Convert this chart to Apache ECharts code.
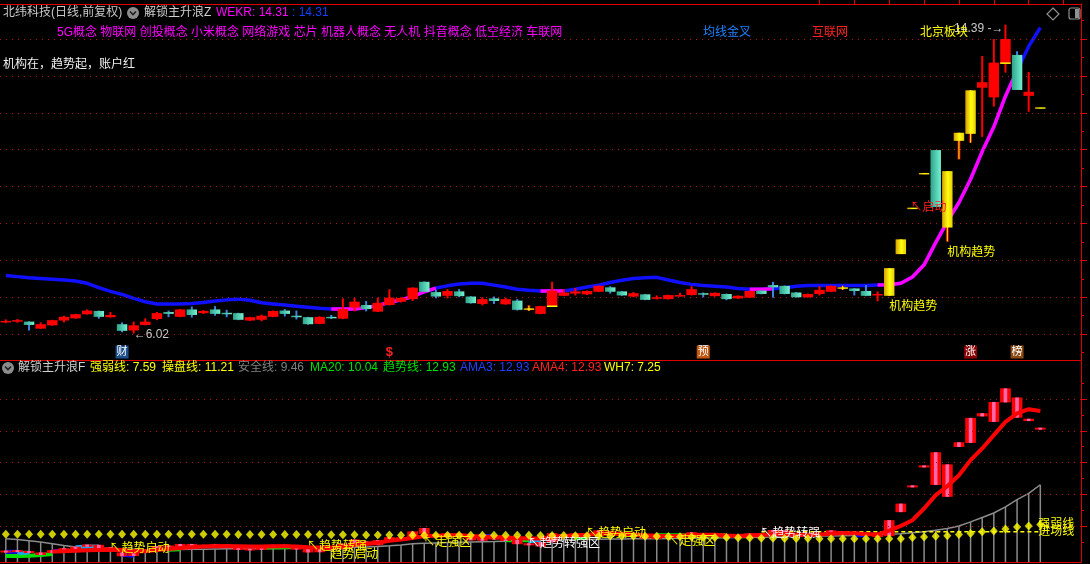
<!DOCTYPE html>
<html><head><meta charset="utf-8">
<script src="https://cdn.jsdelivr.net/npm/echarts@6/dist/echarts.min.js"></script>
<style>html,body{margin:0;padding:0;background:#000;}#c{width:1090px;height:564px;}</style>
</head><body><div id="c"></div>
<script>
// ---------------- DATA ----------------
const days = Array.from({length: 90}, (_, i) => 'D' + (i + 1));
const open = [6.32,6.34,6.34,6.15,6.24,6.37,6.43,6.54,6.63,6.46, 6.27,6.10,6.25,6.41,6.60,6.47,6.67,6.57,6.67,6.58,
  6.57,6.37,6.39,6.47,6.64,6.50,6.46,6.28,6.47,6.42, 6.72,6.79,6.61,6.79,6.88,6.95,7.42,7.14,7.04,7.16,
  7.02,6.82,6.97,6.81,6.91,6.70,6.55,6.75,7.04,7.10, 7.08,7.15,7.27,7.16,7.02,7.08,6.97,6.95,7.04,7.06,
  7.11,7.03,7.09,6.97,6.99,7.18,7.33,7.31,7.13,7.00, 7.09,7.15,7.27,7.24,7.17,7.05,7.04,8.17,9.43,10.37,
  10.99,8.89,11.24,11.43,12.68,12.42,13.34,13.57,12.46,12.15];
const close = [6.36,6.38,6.25,6.27,6.38,6.47,6.54,6.64,6.47,6.52, 6.09,6.24,6.34,6.57,6.55,6.67,6.52,6.63,6.55,6.56,
  6.39,6.46,6.50,6.63,6.55,6.48,6.27,6.47,6.45,6.68, 6.88,6.68,6.85,6.99,6.98,7.26,7.15,7.02,7.17,7.03,
  6.84,6.95,6.90,6.95,6.66,6.70,6.76,7.18,7.13,7.16, 7.17,7.31,7.15,7.05,7.11,6.93,7.00,7.06,7.06,7.22,
  7.09,7.12,6.95,7.04,7.17,7.09,7.27,7.09,7.00,7.09, 7.20,7.31,7.27,7.17,7.04,7.09,7.79,8.57,9.43,10.37,
  9.45,10.42,11.46,12.61,12.83,13.36,14.00,12.62,12.57,12.15];
const low = [6.30,6.31,6.10,6.14,6.23,6.32,6.42,6.53,6.42,6.45, 6.05,6.02,6.24,6.38,6.46,6.46,6.45,6.55,6.50,6.46,
  6.38,6.36,6.35,6.46,6.48,6.40,6.26,6.27,6.41,6.41, 6.62,6.62,6.60,6.78,6.86,6.90,7.14,6.97,6.97,7.00,
  6.83,6.78,6.82,6.80,6.64,6.63,6.54,6.74,7.03,7.05, 7.06,7.14,7.10,7.04,7.00,6.92,6.94,6.94,7.02,7.05,
  7.00,7.02,6.92,6.96,6.98,7.08,6.99,7.08,6.99,6.99, 7.05,7.14,7.20,7.05,7.03,6.89,7.04,8.17,9.43,10.37,
  9.45,8.51,10.74,11.19,11.35,12.17,13.09,12.62,12.03,12.15];
const high = [6.40,6.41,6.35,6.32,6.39,6.50,6.55,6.67,6.64,6.60, 6.32,6.34,6.43,6.60,6.64,6.68,6.75,6.65,6.76,6.66,
  6.58,6.47,6.53,6.64,6.68,6.64,6.47,6.48,6.52,6.97, 6.98,6.90,6.99,7.22,7.00,7.27,7.43,7.20,7.22,7.22,
  7.03,7.00,7.02,6.99,6.95,6.78,6.77,7.42,7.22,7.25, 7.18,7.32,7.30,7.17,7.14,7.09,7.05,7.07,7.12,7.30,
  7.13,7.13,7.10,7.05,7.18,7.19,7.42,7.32,7.14,7.10, 7.30,7.32,7.31,7.25,7.33,7.16,7.79,8.57,9.43,10.37,
  10.99,10.42,11.46,12.61,13.54,14.00,14.39,13.67,13.11,12.15];
const yellowBars = [45,72,76,77,78,79,81,82,83,89];
const openMarkBars = [47,86];
// WEKR trend line (top panel)
const wekr = [7.59,7.56,7.53,7.51,7.49,7.47,7.44,7.38,7.26,7.16, 7.08,6.97,6.88,6.82,6.82,6.82,6.83,6.86,6.90,6.93,
  6.95,6.92,6.85,6.82,6.79,6.76,6.73,6.70,6.68,6.68, 6.68,6.72,6.78,6.86,6.93,7.02,7.15,7.25,7.31,7.36,
  7.38,7.38,7.33,7.28,7.22,7.19,7.17,7.17,7.17,7.22, 7.28,7.33,7.40,7.46,7.51,7.53,7.54,7.47,7.40,7.35,
  7.32,7.30,7.28,7.24,7.22,7.22,7.23,7.26,7.30,7.32, 7.32,7.32,7.32,7.32,7.32,7.33,7.34,7.38,7.55,7.88,
  8.48,9.05,9.57,10.20,10.95,11.62,12.45,13.15,13.80,14.31];
const wekrUpRanges = [[28,37],[46,48],[64,66],[75,87]];
// lower panel lines
const strongLine = [7.13,7.13,7.13,7.13,7.13,7.13,7.13,7.13,7.13,7.13, 7.13,7.13,7.13,7.13,7.13,7.13,7.13,7.13,7.13,7.13,
  7.12,7.12,7.12,7.12,7.11,7.11,7.11,7.11,7.10,7.10, 7.10,7.09,7.09,7.09,7.08,7.08,7.08,7.08,7.08,7.08,
  7.08,7.08,7.08,7.08,7.08,7.08,7.07,7.07,7.07,7.06, 7.06,7.05,7.05,7.04,7.04,7.03,7.03,7.02,7.01,7.00,
  6.99,6.98,6.97,6.96,6.95,6.94,6.94,6.93,6.93,6.93, 6.92,6.92,6.92,6.92,6.92,6.92,6.92,6.92,6.97,7.00,
  7.03,7.06,7.11,7.16,7.24,7.28,7.38,7.47,7.52,7.59];
const safeLine = [6.92,6.88,6.82,6.76,6.68,6.60,6.53,6.50,6.48,6.46, 6.44,6.42,6.40,6.40,6.40,6.41,6.42,6.42,6.43,6.44,
  6.44,6.45,6.45,6.46,6.46,6.47,6.48,6.48,6.49,6.50, 6.52,6.53,6.55,6.58,6.62,6.68,6.70,6.72,6.74,6.75,
  6.76,6.77,6.78,6.80,6.82,6.84,6.85,6.86,6.87,6.88, 6.88,6.89,6.90,6.90,6.91,6.92,6.92,6.93,6.94,6.94,
  6.95,6.95,6.96,6.97,6.98,6.99,7.00,7.01,7.02,7.03, 7.04,7.05,7.06,7.07,7.08,7.10,7.13,7.15,7.20,7.24,
  7.32,7.40,7.52,7.71,7.92,8.13,8.42,8.76,9.05,9.46];
const ama4 = [null,null,null,null,6.31,6.33,6.35,6.37,6.39,6.40, 6.38,6.33,6.33,6.38,6.43,6.48,6.52,6.55,6.56,6.57,
  6.56,6.55,6.55,6.56,6.56,6.55,6.52,6.50,6.50,6.54, 6.62,6.67,6.73,6.82,6.88,6.95,7.04,7.06,7.08,7.08,
  7.05,7.02,7.00,6.98,6.95,6.93,6.93,7.00,7.05,7.08, 7.10,7.14,7.16,7.15,7.12,7.08,7.06,7.05,7.06,7.09,
  7.10,7.10,7.07,7.05,7.07,7.09,7.13,7.14,7.12,7.10, 7.11,7.15,7.18,7.18,7.14,7.12,7.30,7.52,7.79,8.34,
  8.97,9.39,9.91,10.62,11.17,11.80,12.42,12.82,13.02,12.93];
const ama3 = [6.30,6.30,null,null,6.33,6.36,null,null,null,null, 6.16,6.12,null,null,null,null,null,null,null,null,
  null,null,null,null,null,null,null,null,null,null, null,null,null,null,null,null,null,null,null,null,
  null,7.05,7.05,null,6.76,null,null,null,null,null, null,null,null,null,null,null,null,null,null,null,
  null,null,7.03,7.03,null,null,null,null,null,null, null,null,null,7.08,7.08,null,null,null,null,null,
  null,null,null,null,null,null,null,null,null,null];
const ma20 = [6.10,6.10,6.12,6.15,6.20,null,null,null,null,null, null,null,null,null,6.40,6.42,null,null,null,null,
  null,null,6.50,6.50,6.52,6.53,null,null,null,null, null,null,null,null,null,null,null,null,null,null,
  null,null,null,6.84,6.84,6.85,6.86,null,null,6.95, 6.96,null,null,null,null,null,7.08,7.08,7.08,7.08,
  7.08,7.08,7.08,null,null,null,null,null,null,null, null,null,null,null,null,null,null,null,null,null,
  null,null,null,null,null,null,null,null,null,null];
const cyanLine = [null,6.25,6.25,null,null,null,6.52,6.55,6.55,null, null,null,null,null,null,null,null,null,null,null,
  null,null,null,null,null,null,null,null,null,null, null,null,null,null,null,null,null,null,null,null,
  null,null,null,null,null,6.80,6.82,null,null,null, null,null,null,null,null,null,null,null,null,null,
  null,null,null,null,null,null,null,null,null,null, null,null,null,null,null,null,null,null,null,null,
  null,null,null,null,null,null,null,null,null,null];
const wh7 = [null,null,null,null,null,null,null,null,null,null, null,null,null,null,null,null,null,null,null,null,
  null,null,null,null,null,null,null,null,null,null, null,null,null,null,null,null,null,null,null,null,
  null,null,null,null,null,null,null,null,null,null, null,null,null,null,null,null,null,null,null,null,
  null,null,null,null,null,7.25,7.25,7.25,7.25,7.25, 7.25,7.25,7.25,7.25,7.25,7.25,7.25,7.25,7.25,7.25,
  7.25,7.25,7.25,7.25,7.25,7.25,7.25,7.25,7.25,7.25];
const priceTicks = [6,7,8,9,10,11,12,13,14];
const priceMinorTicks = [5.5,6.5,7.5,8.5,9.5,10.5,11.5,12.5,13.5,14.5];
const lowerTicks = [7.5,9,10.5,12,13.5];
const lowerMinorTicks = [6.75,8.25,9.75,11.25,12.75,14.25];
const concepts = ['5G概念','物联网','创投概念','小米概念','网络游戏','芯片','机器人概念','无人机','抖音概念','低空经济','车联网'];
const headerTop = {name:'北纬科技(日线,前复权)', ind:'解锁主升浪Z', wekr:14.31, wekr2:14.31};
const headerBottom = [['强弱线',7.59],['操盘线',11.21],['安全线',9.46],['MA20',10.04],['趋势线',12.93],['AMA3',12.93],['AMA4',12.93],['WH7',7.25]];
const badges = [[10,'财'],[33,'$'],[60,'预'],[83,'涨'],[87,'榜']];
const lowerNotes = [[9,6.47,'↖趋势启动'],[26,6.56,'↖趋势转强'],[28,6.18,'趋势启动'],[36,6.75,'↖走强区'],
  [45,6.70,'↖趋势转强区'],[50,7.17,'↖趋势启动'],[57,6.80,'↖走强区'],[65,7.17,'↖趋势转强']];

// ---------------- STYLE / BUILD ----------------
const RED = '#e00000', DOT = '#a81c1c';
const FONT = '"Liberation Sans","Noto Sans CJK SC",sans-serif';
const cats = days.concat(['', '', '']);
const kind = i => yellowBars.includes(i) ? 2 : (close[i] < open[i] ? 1 : 0);
const candleData = days.map((d, i) => [i, open[i], close[i], low[i], high[i], kind(i)]);
const G = echarts.graphic;
const cyanGrad = () => new G.LinearGradient(0, 0, 1, 0, [{offset:0,color:'#2ea38a'},{offset:1,color:'#74f2d2'}]);
const yellowGrad = () => new G.LinearGradient(0, 0, 1, 0, [{offset:0,color:'#d8a000'},{offset:0.55,color:'#ffff10'},{offset:1,color:'#e8cc00'}]);

function renderCandle(params, api) {
  const i = api.value(0), o = api.value(1), c = api.value(2), l = api.value(3), h = api.value(4), k = api.value(5);
  const band = api.size([1, 0])[0];
  const w = band * 0.9;
  const xc = api.coord([i, o])[0];
  const yO = api.coord([i, o])[1], yC = api.coord([i, c])[1];
  const yL = api.coord([i, l])[1], yH = api.coord([i, h])[1];
  const top = Math.min(yO, yC), bh = Math.max(Math.abs(yO - yC), 1.5);
  const ch = [];
  if (yL - yH > 0.5) {
    if (k === 2) {
      ch.push({type:'rect', shape:{x:xc-1.5, y:yH, width:3, height:yL-yH}, style:{fill:'#d00000'}});
      ch.push({type:'rect', shape:{x:xc-0.5, y:yH, width:1, height:yL-yH}, style:{fill:'#ffff00'}});
    } else {
      ch.push({type:'rect', shape:{x:xc-1, y:yH, width:2, height:yL-yH}, style:{fill: k === 1 ? '#3c84e0' : '#ff0000'}});
    }
  }
  const fill = k === 2 ? yellowGrad() : (k === 1 ? cyanGrad() : '#ff0000');
  ch.push({type:'rect', shape:{x:xc-w/2, y:top, width:w, height:bh}, style:{fill}});
  if (openMarkBars.includes(i)) ch.push({type:'rect', shape:{x:xc-w/2, y:yO-1, width:w, height:1.5}, style:{fill:'#ffff00'}});
  return {type:'group', children: ch};
}
function renderBody(params, api) {
  const i = api.value(0), o = api.value(1), c = api.value(2);
  const band = api.size([1, 0])[0], w = band * 0.92;
  const xc = api.coord([i, o])[0];
  const y1 = api.coord([i, o])[1], y2 = api.coord([i, c])[1];
  const top = Math.min(y1, y2), bh = Math.max(Math.abs(y1 - y2), 2);
  return {type:'group', children:[
    {type:'rect', shape:{x:xc-w/2, y:top, width:w, height:bh}, style:{fill:'#ff0000'}},
    {type:'rect', shape:{x:xc-w*0.17, y:top, width:w*0.34, height:bh}, style:{fill:'#ff66a8'}}
  ]};
}
function renderStem(params, api) {
  const p = api.coord([api.value(0), api.value(1)]);
  const bottom = params.coordSys.y + params.coordSys.height;
  return {type:'rect', shape:{x:p[0]-0.75, y:p[1], width:1.5, height:bottom-p[1]}, style:{fill:'#8a8a8a'}};
}
function renderBadge(params, api) {
  const b = badges[params.dataIndex];
  const x = api.coord([b[0], 10])[0];
  const yb = params.coordSys.y + params.coordSys.height;
  const bg = {'财':'#1d4f8c','预':'#c2570f','涨':'#8a0000','榜':'#8b4a12'}[b[1]];
  if (!bg) return {type:'text', x, y: yb-8, style:{text:b[1], fill:'#ff2020', font:'bold 13px ' + FONT, textAlign:'center', textVerticalAlign:'middle'}};
  return {type:'group', children:[
    {type:'rect', shape:{x:x-6.5, y:yb-14.5, width:13, height:13}, style:{fill:bg}},
    {type:'text', x, y: yb-8, style:{text:b[1], fill:'#ffffff', font:'11px ' + FONT, textAlign:'center', textVerticalAlign:'middle'}}
  ]};
}
// top annotations derived from data
const topNotes = [
  {i:76, v:low[76], text:'机构趋势', color:'#ffff00', dx:0, dy:11, align:'left'},
  {i:81, v:low[81], text:'机构趋势', color:'#ffff00', dx:0, dy:11, align:'left'},
  {i:78, v:close[78], text:'↖启动', color:'#ff2020', dx:-2, dy:0, align:'left'},
  {i:86, v:Math.max(...high), text:Math.max(...high).toFixed(2) + ' -→', color:'#c8c8c8', dx:-2, dy:4, align:'right'},
  {i:11, v:Math.min(...low), text:'←' + Math.min(...low).toFixed(2), color:'#c8c8c8', dx:0, dy:1, align:'left'}
];
function renderTopNote(params, api) {
  const n = topNotes[params.dataIndex];
  const p = api.coord([n.i, n.v]);
  return {type:'text', x:p[0]+n.dx, y:p[1]+n.dy, style:{text:n.text, fill:n.color, font:'12px ' + FONT, textAlign:n.align, textVerticalAlign:'middle'}};
}
const lowerNoteColors = ['#ffff00','#ffff00','#ffff00','#ffff00','#ffffff','#ffff00','#ffff00','#ffffff'];
function renderLowerNote(params, api) {
  const n = lowerNotes[params.dataIndex];
  const p = api.coord([n[0], n[1]]);
  return {type:'text', x:p[0]-1, y:p[1], style:{text:n[2], fill:lowerNoteColors[params.dataIndex], font:'12px ' + FONT, textAlign:'left', textVerticalAlign:'middle'}};
}
function endLabel(params, api) {
  const idx = 89;
  const p = api.coord([idx, api.value(1)]);
  return {type:'text', x:p[0]-2, y:p[1], style:{text: params.dataIndex === 0 ? '强弱线' : '进场线', fill:'#ffff00', font:'12px ' + FONT, textAlign:'left', textVerticalAlign:'middle'}};
}
const segs = (arr, ranges) => arr.map((v, i) => ranges.some(r => i >= r[0] && i <= r[1]) ? v : null);
const dotted = (vals) => ({silent:true, symbol:['none','none'], label:{show:false}, animation:false,
  lineStyle:{type:[1,5], color:DOT, width:1}, data: vals.map(v => ({yAxis:v}))});

const yTop = {min:5.30, max:14.95}, yLow = {min:5.82, max:15.29};
const txt = (x, y, text, color, extra) => Object.assign({type:'text', x, y, style:{text, fill:color, font:'12px ' + FONT, textVerticalAlign:'middle'}, z:100}, extra || {});
const icon = (cx, cy) => ({type:'group', z:100, children:[
  {type:'circle', shape:{cx, cy, r:6}, style:{fill:'#8c8c8c'}},
  {type:'polyline', shape:{points:[[cx-3,cy-1.5],[cx,cy+1.5],[cx+3,cy-1.5]]}, style:{stroke:'#202020', lineWidth:1.6, fill:null}}
]});
let hx = 18;
const bottomHeader = [];
const hbColors = ['#ffff00','#ffff00','#808080','#00e000','#00e000','#2040ff','#ff2020','#ffff00'];
const hbX = [90,162,238,310,383,460,532,604];
headerBottom.forEach((h, k) => bottomHeader.push(txt(hbX[k], 368, h[0] + ': ' + h[1].toFixed(2), hbColors[k])));

const option = {
  backgroundColor:'#000',
  animation:false,
  grid:[{left:0, right:9, top:4, height:356}, {left:0, right:9, top:361, height:201}],
  xAxis:[
    {type:'category', data:cats, gridIndex:0, position:'bottom', axisLine:{show:true, lineStyle:{color:RED}}, axisTick:{show:false}, axisLabel:{show:false}},
    {type:'category', data:cats, gridIndex:0, position:'top', axisLine:{show:true, lineStyle:{color:RED}},
      axisTick:{show:true, alignWithLabel:true, length:4, inside:false, lineStyle:{color:RED}, interval:(idx) => idx >= 70 && (idx - 70) % 3 === 0}, axisLabel:{show:false}},
    {type:'category', data:cats, gridIndex:1, position:'bottom', axisLine:{show:true, lineStyle:{color:RED}}, axisTick:{show:false}, axisLabel:{show:false}}
  ],
  yAxis:[
    Object.assign({type:'value', gridIndex:0, position:'right', axisLine:{show:true, lineStyle:{color:RED}}, axisTick:{show:true, length:6, customValues:priceTicks, lineStyle:{color:RED}}, axisLabel:{show:false}, splitLine:{show:false}}, yTop),
    Object.assign({type:'value', gridIndex:0, position:'right', axisLine:{show:false}, axisTick:{show:true, length:3, customValues:priceMinorTicks, lineStyle:{color:RED}}, axisLabel:{show:false}, splitLine:{show:false}}, yTop),
    Object.assign({type:'value', gridIndex:1, position:'right', axisLine:{show:true, lineStyle:{color:RED}}, axisTick:{show:true, length:6, customValues:lowerTicks, lineStyle:{color:RED}}, axisLabel:{show:false}, splitLine:{show:false}}, yLow),
    Object.assign({type:'value', gridIndex:1, position:'right', axisLine:{show:false}, axisTick:{show:true, length:3, customValues:lowerMinorTicks, lineStyle:{color:RED}}, axisLabel:{show:false}, splitLine:{show:false}}, yLow)
  ],
  series:[
    // ---- top panel
    {type:'line', xAxisIndex:0, yAxisIndex:0, data:wekr, symbol:'none', lineStyle:{color:'#1010ff', width:3.5}, z:2, markLine:dotted(priceTicks)},
    {type:'line', xAxisIndex:0, yAxisIndex:0, data:segs(wekr, wekrUpRanges), symbol:'none', lineStyle:{color:'#ff00ff', width:3.5}, z:3},
    {type:'custom', xAxisIndex:0, yAxisIndex:0, data:candleData, renderItem:renderCandle, encode:{x:0, y:[1,2,3,4]}, z:5},
    {type:'custom', xAxisIndex:0, yAxisIndex:0, data:topNotes.map(n => [n.i, n.v]), renderItem:renderTopNote, z:8},
    {type:'custom', xAxisIndex:0, yAxisIndex:0, data:badges.map(b => [b[0], 10]), renderItem:renderBadge, z:8},
    // ---- lower panel
    {type:'custom', xAxisIndex:2, yAxisIndex:2, data:safeLine.map((v, i) => [i, v]), renderItem:renderStem, z:1},
    {type:'line', xAxisIndex:2, yAxisIndex:2, data:safeLine, symbol:'none', lineStyle:{color:'#8c8c8c', width:1.5}, z:2, markLine:dotted(lowerTicks)},
    {type:'line', xAxisIndex:2, yAxisIndex:2, data:wh7, symbol:'none', lineStyle:{color:'#ffff00', width:1.5, type:[4,3]}, z:2},
    {type:'line', xAxisIndex:2, yAxisIndex:2, data:ma20, symbol:'none', lineStyle:{color:'#00e000', width:4}, z:3},
    {type:'line', xAxisIndex:2, yAxisIndex:2, data:cyanLine, symbol:'none', lineStyle:{color:'#18a8f0', width:4}, z:3},
    {type:'line', xAxisIndex:2, yAxisIndex:2, data:ama3, symbol:'none', lineStyle:{color:'#0010ff', width:4}, z:3},
    {type:'custom', xAxisIndex:2, yAxisIndex:2, data:candleData, renderItem:renderBody, encode:{x:0, y:[1,2]}, z:4},
    {type:'line', xAxisIndex:2, yAxisIndex:2, data:ama4, symbol:'none', lineStyle:{color:'#ff0000', width:4}, z:5},
    {type:'scatter', xAxisIndex:2, yAxisIndex:2, data:strongLine.map((v, i) => [i, v]), symbol:'diamond', symbolSize:[8,9], itemStyle:{color:'#ffff00'}, z:6},
    {type:'custom', xAxisIndex:2, yAxisIndex:2, data:lowerNotes.map(n => [n[0], n[1]]), renderItem:renderLowerNote, z:8},
    {type:'custom', xAxisIndex:2, yAxisIndex:2, data:[[89, strongLine[89]], [89, wh7[89]]], renderItem:endLabel, z:8}
  ],
  graphic:[
    txt(3, 13, headerTop.name, '#c8c8c8'),
    icon(133, 13),
    txt(144, 13, headerTop.ind, '#d0d0d0'),
    txt(216, 13, 'WEKR: ' + headerTop.wekr.toFixed(2), '#ff00ff'),
    txt(292, 13, ': ' + headerTop.wekr2.toFixed(2), '#1040ff'),
    txt(57, 33, concepts.join(' '), '#ff00ff'),
    txt(703, 33, '均线金叉', '#2080ff'),
    txt(812, 33, '互联网', '#ff2020'),
    txt(920, 33, '北京板块', '#ffff00'),
    txt(3, 65, '机构在，趋势起，账户红', '#f0f0f0'),
    {type:'polygon', z:100, shape:{points:[[1053,8],[1059,14],[1053,20],[1047,14]]}, style:{stroke:'#909090', fill:null, lineWidth:1.2}},
    {type:'rect', z:100, shape:{x:1069, y:8, width:11, height:11, r:2}, style:{stroke:'#909090', fill:null, lineWidth:1.2}},
    {type:'rect', z:100, shape:{x:1075, y:9, width:4, height:9}, style:{fill:'#909090'}},
    icon(8, 368),
    txt(18, 368, '解锁主升浪F', '#d0d0d0')
  ].concat(bottomHeader)
};
const chart = echarts.init(document.getElementById('c'));
chart.setOption(option);
</script></body></html>
